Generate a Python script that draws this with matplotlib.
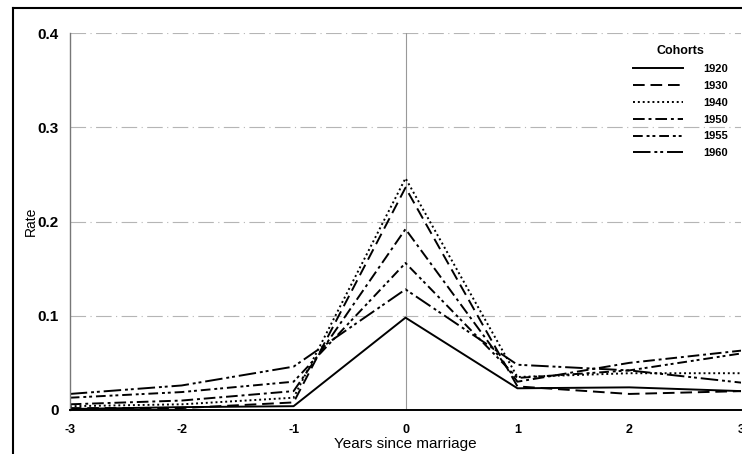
import matplotlib
matplotlib.use("Agg")
import matplotlib.pyplot as plt
from matplotlib.lines import Line2D

plt.rcParams["font.family"] = ["Liberation Sans", "DejaVu Sans"]

# Data
years = [-3, -2, -1, 0, 1, 2, 3]
cohorts = ["1920", "1930", "1940", "1950", "1955", "1960"]
rate_1920 = [0.001, 0.003, 0.004, 0.098, 0.023, 0.024, 0.020]
rate_1930 = [0.002, 0.002, 0.008, 0.236, 0.025, 0.017, 0.020]
rate_1940 = [0.004, 0.006, 0.013, 0.246, 0.035, 0.039, 0.039]
rate_1950 = [0.006, 0.010, 0.020, 0.192, 0.030, 0.050, 0.063]
rate_1955 = [0.013, 0.019, 0.030, 0.156, 0.034, 0.042, 0.060]
rate_1960 = [0.017, 0.026, 0.046, 0.128, 0.048, 0.042, 0.029]
series = [rate_1920, rate_1930, rate_1940, rate_1950, rate_1955, rate_1960]

styles = [
    "-",
    (0, (6, 3)),
    (0, (1, 1.5)),
    (0, (6, 2, 1.5, 2)),
    (0, (5, 2, 1.5, 1.5, 1.5, 2)),
    (0, (9, 2, 1.5, 1.5, 1.5, 2)),
]

fig = plt.figure(figsize=(7.42, 4.54), dpi=100)
ax = fig.add_axes([0.094, 0.097, 0.905, 0.83])

for vals, name, ls in zip(series, cohorts, styles):
    ax.plot(years, vals, color="black", linestyle=ls, linewidth=1.4, label=name)

# faint reference lines
for yv in [0.1, 0.2, 0.3, 0.4]:
    ax.axhline(yv, color="#b5b5b5", linewidth=0.8, linestyle=(0, (14, 4, 1, 4)), zorder=0)
ax.axvline(0, color="#999999", linewidth=0.8, zorder=0)

ax.set_xlim(-3, 3)
ax.set_ylim(0, 0.4)
ax.set_xticks(years)
ax.set_xticklabels(["-3", "-2", "-1", "0", "1", "2", "3"])
ax.set_yticks([0, 0.1, 0.2, 0.3, 0.4])
ax.set_yticklabels(["0", "0.1", "0.2", "0.3", "0.4"])
ax.tick_params(axis="x", length=0, labelsize=9, pad=10)
ax.tick_params(axis="y", length=0, labelsize=11, pad=8)
for t in ax.get_yticklabels() + ax.get_xticklabels():
    t.set_fontweight("bold")

for s in ["top", "right"]:
    ax.spines[s].set_visible(False)
ax.spines["left"].set_color("#777777")
ax.spines["left"].set_linewidth(1.0)
ax.spines["bottom"].set_linewidth(1.4)

ax.set_xlabel("Years since marriage", fontsize=11, labelpad=1)
ax.set_ylabel("Rate", fontsize=10, labelpad=0)

leg = ax.legend(title="Cohorts", loc="upper right", bbox_to_anchor=(0.995, 0.995),
                frameon=False, fontsize=8, title_fontsize=9, handlelength=4.5,
                handletextpad=1.8, labelspacing=0.62, markerfirst=True)
leg.get_title().set_fontweight("bold")
for t in leg.get_texts():
    t.set_fontweight("bold")

# outer frame (cropped scan)
fig.add_artist(Line2D([13 / 742, 13 / 742], [0, 1 - 8 / 454], color="black", linewidth=1.5))
fig.add_artist(Line2D([13 / 742, 1], [1 - 8 / 454, 1 - 8 / 454], color="black", linewidth=1.5))

fig.savefig("out.png", dpi=100)
